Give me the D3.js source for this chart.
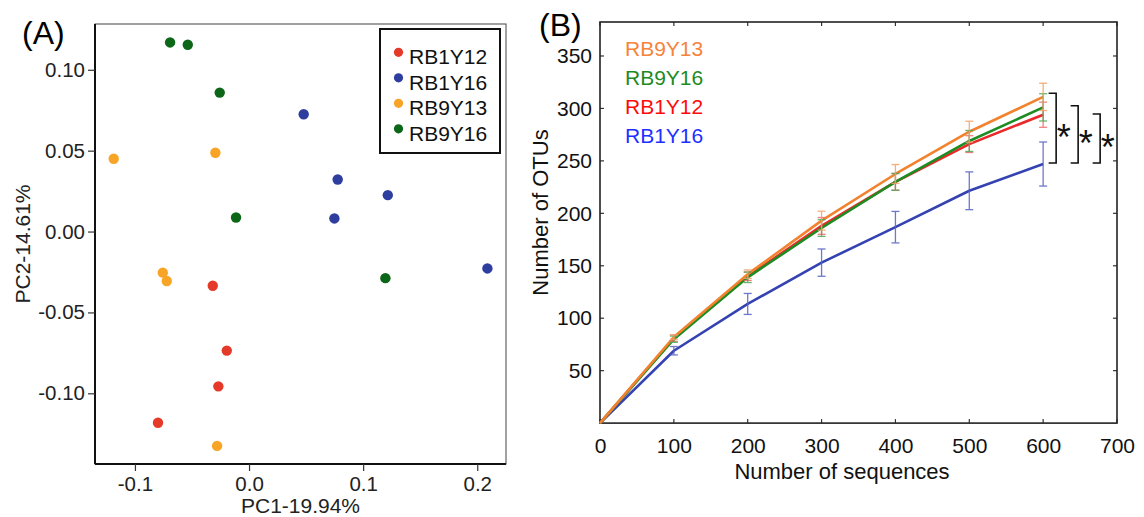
<!DOCTYPE html>
<html><head><meta charset="utf-8">
<script src="https://cdn.jsdelivr.net/npm/d3@7"></script>
<style>
html,body{margin:0;padding:0;background:#fff;}
svg{display:block;}
text{font-family:"Liberation Sans",Arial,Helvetica,sans-serif;}
</style></head>
<body>
<svg id="chart" width="1144" height="517"></svg>
<script>
// ---------- Panel A data (PCoA) ----------
const groupsA = ["RB1Y12", "RB1Y16", "RB9Y13", "RB9Y16"];
const colorsA = ["#E5392A", "#2E3E9E", "#F7A427", "#0B6618"];
const pc1_RB1Y12 = [-0.0318, -0.0195, -0.0269, -0.0798];
const pc2_RB1Y12 = [-0.0335, -0.0736, -0.0957, -0.1182];
const pc1_RB1Y16 = [0.0479, 0.0777, 0.1216, 0.0748, 0.2089];
const pc2_RB1Y16 = [0.0725, 0.0322, 0.0225, 0.0081, -0.0228];
const pc1_RB9Y13 = [-0.1186, -0.0295, -0.0756, -0.0721, -0.0280];
const pc2_RB9Y13 = [0.0450, 0.0487, -0.0254, -0.0306, -0.1325];
const pc1_RB9Y16 = [-0.0692, -0.0537, -0.0257, -0.0114, 0.1195];
const pc2_RB9Y16 = [0.1169, 0.1155, 0.0859, 0.0087, -0.0288];
const xTicksA = [-0.1, 0.0, 0.1, 0.2];
const yTicksA = [0.10, 0.05, 0.00, -0.05, -0.10];

// ---------- Panel B data (rarefaction) ----------
const seqs = [0, 100, 200, 300, 400, 500, 600];
const otu_RB9Y13 = [0, 82, 142, 193, 237.5, 277.8, 311];
const otu_RB9Y16 = [0, 80, 139, 186, 230, 269, 301];
const otu_RB1Y12 = [0, 81, 140, 188, 230, 266, 294];
const otu_RB1Y16 = [0, 69, 113.6, 153, 186.8, 221.5, 247];
const err_RB9Y13 = [0, 2, 4, 9, 9, 10, 13];
const err_RB9Y16 = [0, 3, 5, 8, 8, 10, 13];
const err_RB1Y12 = [0, 3, 4, 8, 8, 8, 12];
const err_RB1Y16 = [0, 4, 10, 13, 15, 18, 21];
const legendB = ["RB9Y13", "RB9Y16", "RB1Y12", "RB1Y16"];
const xTicksB = [0, 100, 200, 300, 400, 500, 600, 700];
const yTicksB = [50, 100, 150, 200, 250, 300, 350];
// significance brackets: [upper value, lower value] at 600 sequences
const sigTop = [314.5, 302.5, 294.7];
const sigBottom = [248, 248, 248];

const svg = d3.select("#chart");
const hyph = f => (d => f(d).replace("\u2212", "-"));

// ================= Panel A =================
const A = {l: 95, r: 506, t: 24, b: 464};
const xA = d3.scaleLinear().domain([-0.135, 0.2252]).range([A.l, A.r]);
const yA = d3.scaleLinear().domain([-0.1437, 0.1283]).range([A.b, A.t]);

svg.append("rect").attr("x", A.l).attr("y", A.t).attr("width", A.r - A.l).attr("height", A.b - A.t)
  .attr("fill", "none").attr("stroke", "#444").attr("stroke-width", 1);

const gxA = svg.append("g").attr("transform", `translate(0,${A.b})`)
  .call(d3.axisBottom(xA).tickValues(xTicksA).tickFormat(hyph(d3.format(".1f"))).tickSize(7).tickPadding(4));
const gyA = svg.append("g").attr("transform", `translate(${A.l},0)`)
  .call(d3.axisLeft(yA).tickValues(yTicksA).tickFormat(hyph(d3.format(".2f"))).tickSize(7).tickPadding(3));
[gxA, gyA].forEach(g => {
  g.select(".domain").attr("stroke", "#111").attr("stroke-width", 2);
  g.selectAll(".tick line").attr("stroke", "#333").attr("stroke-width", 1.2);
  g.selectAll(".tick text").attr("font-size", 20.5).attr("fill", "#222")
    .attr("font-family", '"Liberation Sans",Arial,sans-serif');
});
gxA.select(".domain").attr("d", `M${A.l},0H${A.r}`);
gyA.select(".domain").attr("d", `M0,${A.b}V${A.t}`);
gxA.selectAll(".tick text").attr("dy", "0.78em");

const ptsA = [
  {g: 0, xs: pc1_RB1Y12, ys: pc2_RB1Y12},
  {g: 1, xs: pc1_RB1Y16, ys: pc2_RB1Y16},
  {g: 2, xs: pc1_RB9Y13, ys: pc2_RB9Y13},
  {g: 3, xs: pc1_RB9Y16, ys: pc2_RB9Y16}
].flatMap(s => s.xs.map((x, i) => ({g: s.g, x: x, y: s.ys[i]})));
svg.append("g").selectAll("circle").data(ptsA).join("circle")
  .attr("cx", d => xA(d.x)).attr("cy", d => yA(d.y)).attr("r", 5.2)
  .attr("fill", d => colorsA[d.g]);

svg.append("text").attr("x", (A.l + A.r) / 2).attr("y", 513).attr("text-anchor", "middle")
  .attr("font-size", 21).attr("fill", "#222").text("PC1-19.94%");
svg.append("text").attr("transform", `translate(30,${(A.t + A.b) / 2}) rotate(-90)`)
  .attr("text-anchor", "middle").attr("font-size", 21).attr("fill", "#222").text("PC2-14.61%");

// legend A
const legA = svg.append("g");
legA.append("rect").attr("x", 380).attr("y", 29).attr("width", 120).attr("height", 124)
  .attr("fill", "#fff").attr("stroke", "#111").attr("stroke-width", 2);
groupsA.forEach((name, i) => {
  legA.append("circle").attr("cx", 398.5).attr("cy", 52.3 + i * 25.5).attr("r", 4.6).attr("fill", colorsA[i]);
  legA.append("text").attr("x", 409).attr("y", 64.3 + i * 25.5).attr("font-size", 21)
    .attr("fill", "#111").text(name);
});

svg.append("text").attr("x", 22).attr("y", 44).attr("font-size", 32)
  .attr("font-family", "Lato,'Open Sans',sans-serif").attr("fill", "#000").text("(A)");

// ================= Panel B =================
const B = {l: 600, r: 1117, t: 22, b: 423.1};
const xB = d3.scaleLinear().domain([0, 700]).range([B.l, B.r]);
const yB = d3.scaleLinear().domain([0, 382.4]).range([B.b, B.t]);

const gxB = svg.append("g").attr("transform", `translate(0,${B.b})`)
  .call(d3.axisBottom(xB).tickValues(xTicksB).tickSize(0).tickPadding(15));
const gyB = svg.append("g").attr("transform", `translate(${B.l},0)`)
  .call(d3.axisLeft(yB).tickValues(yTicksB).tickSize(0).tickPadding(8));
[gxB, gyB].forEach(g => {
  g.select(".domain").remove();
  g.selectAll(".tick text").attr("font-size", 21).attr("fill", "#111")
    .attr("font-family", '"Liberation Sans",Arial,sans-serif');
});
// inward ticks on all four sides
const tk = 4;
const tickG = svg.append("g").attr("stroke", "#333").attr("stroke-width", 1.2);
xTicksB.forEach(v => {
  tickG.append("line").attr("x1", xB(v)).attr("x2", xB(v)).attr("y1", B.b).attr("y2", B.b - tk);
  tickG.append("line").attr("x1", xB(v)).attr("x2", xB(v)).attr("y1", B.t).attr("y2", B.t + tk);
});
yTicksB.forEach(v => {
  tickG.append("line").attr("y1", yB(v)).attr("y2", yB(v)).attr("x1", B.l).attr("x2", B.l + tk);
  tickG.append("line").attr("y1", yB(v)).attr("y2", yB(v)).attr("x1", B.r).attr("x2", B.r - tk);
});
svg.append("rect").attr("x", B.l).attr("y", B.t).attr("width", B.r - B.l).attr("height", B.b - B.t)
  .attr("fill", "none").attr("stroke", "#222").attr("stroke-width", 1.6);

const seriesB = [
  {name: "RB1Y16", v: otu_RB1Y16, e: err_RB1Y16, line: "#3543B2", bar: "#5562C4", txt: "#1E30FF"},
  {name: "RB1Y12", v: otu_RB1Y12, e: err_RB1Y12, line: "#EA2A2A", bar: "#F06A6A", txt: "#FF0A0A"},
  {name: "RB9Y16", v: otu_RB9Y16, e: err_RB9Y16, line: "#1E8C23", bar: "#4FA855", txt: "#1E8A22"},
  {name: "RB9Y13", v: otu_RB9Y13, e: err_RB9Y13, line: "#F2822E", bar: "#F5A066", txt: "#F5843A"}
];
const lineGen = d3.line().x((d, i) => xB(seqs[i])).y(d => yB(d));
seriesB.forEach(s => {
  svg.append("path").datum(s.v).attr("d", lineGen).attr("fill", "none")
    .attr("stroke", s.line).attr("stroke-width", 2.6).attr("stroke-linejoin", "round");
});
seriesB.forEach(s => {
  const g = svg.append("g").attr("stroke", s.bar).attr("stroke-width", 1.3).attr("opacity", 0.85);
  seqs.forEach((x, i) => {
    if (s.e[i] <= 0) return;
    const cx = xB(x), y1 = yB(s.v[i] + s.e[i]), y2 = yB(s.v[i] - s.e[i]);
    g.append("line").attr("x1", cx).attr("x2", cx).attr("y1", y1).attr("y2", y2);
    g.append("line").attr("x1", cx - 4).attr("x2", cx + 4).attr("y1", y1).attr("y2", y1);
    g.append("line").attr("x1", cx - 4).attr("x2", cx + 4).attr("y1", y2).attr("y2", y2);
  });
});

// legend B (text only)
legendB.forEach((n, i) => {
  const s = seriesB.find(d => d.name === n);
  svg.append("text").attr("x", 625).attr("y", 55.7 + i * 29.2).attr("font-size", 21)
    .attr("fill", s.txt).text(n);
});

// significance brackets
const x600 = xB(600);
const bOff = [13, 35, 57];
sigTop.forEach((tv, i) => {
  const xv = x600 + bOff[i], yt = yB(tv), yb = yB(sigBottom[i]);
  svg.append("path").attr("d", `M${xv - 7.5},${yt}H${xv}V${yb}H${xv - 7.5}`)
    .attr("fill", "none").attr("stroke", "#111").attr("stroke-width", 1.6);
  svg.append("text").attr("x", xv + 7.5).attr("y", (yt + yb) / 2 + 22).attr("text-anchor", "middle")
    .attr("font-size", 36).attr("fill", "#111").text("*");
});

svg.append("text").attr("x", 842).attr("y", 479).attr("text-anchor", "middle")
  .attr("font-size", 22).attr("fill", "#111").text("Number of sequences");
svg.append("text").attr("transform", `translate(548,212.5) rotate(-90)`)
  .attr("text-anchor", "middle").attr("font-size", 22).attr("fill", "#111").text("Number of OTUs");

svg.append("text").attr("x", 539).attr("y", 36).attr("font-size", 32)
  .attr("font-family", "Lato,'Open Sans',sans-serif").attr("fill", "#000").text("(B)");
</script>
</body></html>
